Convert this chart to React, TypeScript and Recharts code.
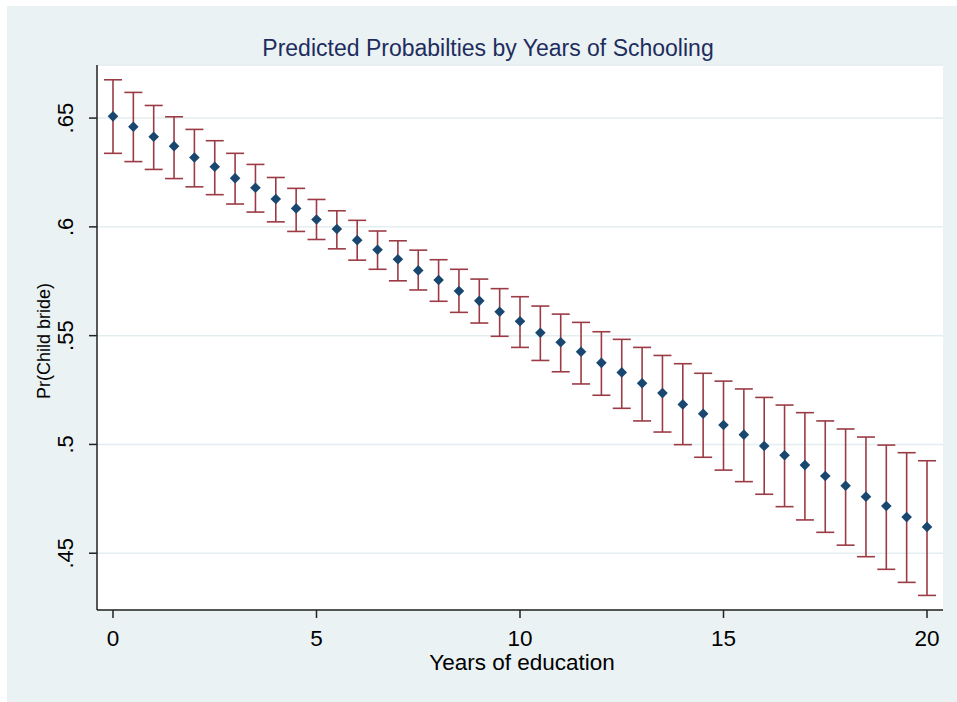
import React from "react";
import {
  ComposedChart,
  Scatter,
  XAxis,
  YAxis,
  CartesianGrid,
  ErrorBar,
} from "recharts";

// Years of education (categories)
const years = [
  0, 0.5, 1, 1.5, 2, 2.5, 3, 3.5, 4, 4.5, 5, 5.5, 6, 6.5, 7, 7.5, 8, 8.5, 9, 9.5,
  10, 10.5, 11, 11.5, 12, 12.5, 13, 13.5, 14, 14.5, 15, 15.5, 16, 16.5, 17, 17.5,
  18, 18.5, 19, 19.5, 20,
];

// Predicted probability (point estimate)
const meanValues = [
  0.6508, 0.646, 0.6414, 0.6371, 0.6319, 0.6276, 0.6224, 0.618, 0.6128, 0.6085,
  0.6034, 0.599, 0.5939, 0.5895, 0.5851, 0.58, 0.5756, 0.5705, 0.566, 0.561,
  0.5566, 0.5513, 0.547, 0.5426, 0.5375, 0.5331, 0.5281, 0.5236, 0.5184, 0.5141,
  0.5089, 0.5045, 0.4993, 0.495, 0.4905, 0.4855, 0.481, 0.476, 0.4717, 0.4666,
  0.4621,
];

// Upper confidence limit
const upperValues = [
  0.6676, 0.6618, 0.6558, 0.6506, 0.6448, 0.6396, 0.6338, 0.6287, 0.6227, 0.6177,
  0.6126, 0.6074, 0.603, 0.5981, 0.5936, 0.5893, 0.5849, 0.5805, 0.576, 0.5716,
  0.5679, 0.5636, 0.5599, 0.5561, 0.5518, 0.5483, 0.5446, 0.5409, 0.5371, 0.5327,
  0.5291, 0.5255, 0.5216, 0.5181, 0.5146, 0.5108, 0.5071, 0.5034, 0.4997, 0.4962,
  0.4925,
];

// Lower confidence limit
const lowerValues = [
  0.6338, 0.63, 0.6264, 0.6222, 0.6184, 0.6148, 0.6105, 0.6068, 0.6023, 0.5979,
  0.5942, 0.5899, 0.5847, 0.5805, 0.5752, 0.571, 0.5658, 0.5607, 0.5558, 0.5497,
  0.5446, 0.5386, 0.5334, 0.5278, 0.5226, 0.5166, 0.5108, 0.5057, 0.4999, 0.4941,
  0.4882, 0.4829, 0.4771, 0.4714, 0.4653, 0.4596, 0.4537, 0.4484, 0.4426, 0.4366,
  0.4306,
];

const xTicks = [0, 5, 10, 15, 20];
const yTicks = [0.45, 0.5, 0.55, 0.6, 0.65];
const yTickLabels = [".45", ".5", ".55", ".6", ".65"];

const data = years.map((x, i) => ({
  x,
  mean: meanValues[i],
  err: [meanValues[i] - lowerValues[i], upperValues[i] - meanValues[i]],
}));

const FONT = "'Liberation Sans', Arial, Helvetica, sans-serif";
const BG = "#eaf2f3";
const AXIS = "#222";
const MARKER = "#1a476f";
const CI = "#9b3b45";

const Diamond = (props: any) => {
  const { cx, cy } = props;
  if (cx == null || cy == null) return <g />;
  const r = 5.3;
  return (
    <path
      d={`M${cx},${cy - r}L${cx + r},${cy}L${cx},${cy + r}L${cx - r},${cy}Z`}
      fill={MARKER}
      stroke="none"
    />
  );
};

const Hidden = () => <g />;

const XTick = (props: any) => {
  const { x, y, payload } = props;
  return (
    <text
      x={x}
      y={y + 26}
      textAnchor="middle"
      fontFamily={FONT}
      fontSize={22.5}
      fill="#000"
    >
      {String(payload.value)}
    </text>
  );
};

const YTick = (props: any) => {
  const { x, y, payload } = props;
  const idx = yTicks.findIndex((t) => Math.abs(t - payload.value) < 1e-9);
  const label = idx >= 0 ? yTickLabels[idx] : String(payload.value);
  const bx = x - 14;
  return (
    <text
      x={bx}
      y={y}
      textAnchor="middle"
      transform={`rotate(-90, ${bx}, ${y})`}
      fontFamily={FONT}
      fontSize={22}
      fill="#000"
    >
      {label}
    </text>
  );
};

export default function App() {
  return (
    <div
      style={{
        position: "absolute",
        left: 0,
        top: 0,
        width: 957,
        height: 702,
        background: "#fff",
        overflow: "hidden",
      }}
    >
      <div
        style={{
          position: "absolute",
          left: 7,
          top: 6,
          width: 950,
          height: 696,
          background: BG,
        }}
      />
      <div style={{ position: "absolute", left: 0, top: 0 }}>
        <ComposedChart
          width={957}
          height={702}
          data={data}
          margin={{ top: 65, right: 14, bottom: 32, left: 37 }}
        >
          <CartesianGrid
            vertical={false}
            horizontal={true}
            fill="#fff"
            stroke="#e4edef"
            strokeWidth={1.5}
          />
          <XAxis
            type="number"
            dataKey="x"
            domain={[-0.393, 20.393]}
            ticks={xTicks}
            allowDataOverflow
            height={60}
            tickSize={8}
            tickMargin={2}
            axisLine={{ stroke: AXIS, strokeWidth: 1.5 }}
            tickLine={{ stroke: AXIS, strokeWidth: 1.5 }}
            tick={<XTick />}
            interval={0}
          />
          <YAxis
            type="number"
            domain={[0.4239, 0.6744]}
            ticks={yTicks}
            allowDataOverflow
            width={60}
            tickSize={8}
            tickMargin={2}
            axisLine={{ stroke: AXIS, strokeWidth: 1.5 }}
            tickLine={{ stroke: AXIS, strokeWidth: 1.5 }}
            tick={<YTick />}
            interval={0}
          />
          <Scatter
            data={data}
            dataKey="mean"
            shape={<Hidden />}
            isAnimationActive={false}
          >
            <ErrorBar
              dataKey="err"
              direction="y"
              width={9}
              stroke={CI}
              strokeWidth={1.6}
              isAnimationActive={false}
            />
          </Scatter>
          <Scatter
            data={data}
            dataKey="mean"
            shape={<Diamond />}
            isAnimationActive={false}
          />
        </ComposedChart>
      </div>
      <svg
        width={957}
        height={702}
        style={{ position: "absolute", left: 0, top: 0, pointerEvents: "none" }}
      >
        <text
          x={488}
          y={56}
          textAnchor="middle"
          fontFamily={FONT}
          fontSize={23}
          fill="#1e2d5e"
        >
          Predicted Probabilties by Years of Schooling
        </text>
        <text
          x={522}
          y={670}
          textAnchor="middle"
          fontFamily={FONT}
          fontSize={22.5}
          fill="#000"
        >
          Years of education
        </text>
        <text
          x={49.5}
          y={341}
          textAnchor="middle"
          transform="rotate(-90, 49.5, 341)"
          fontFamily={FONT}
          fontSize={18}
          fill="#000"
        >
          Pr(Child bride)
        </text>
      </svg>
    </div>
  );
}
